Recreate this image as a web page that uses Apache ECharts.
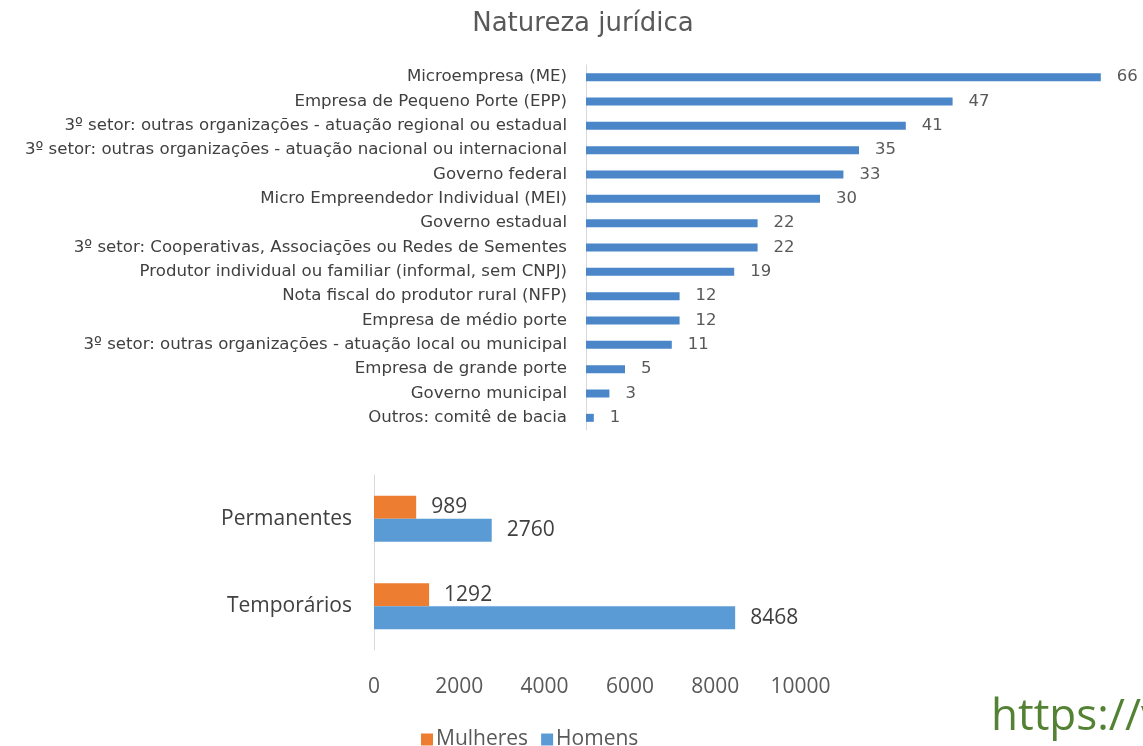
<!DOCTYPE html>
<html>
<head>
<meta charset="utf-8">
<script src="https://cdn.jsdelivr.net/npm/echarts@6/dist/echarts.min.js"></script>
<style>
  html, body { margin: 0; padding: 0; background: #fff; }
  #chart { width: 1143px; height: 746px; }
</style>
</head>
<body>
<div id="chart"></div>
<script>
// natureza juridica (top chart)
var naturezaCats = [
    'Microempresa (ME)',
    'Empresa de Pequeno Porte (EPP)',
    '3º setor: outras organizações - atuação regional ou estadual',
    '3º setor: outras organizações - atuação nacional ou internacional',
    'Governo federal',
    'Micro Empreendedor Individual (MEI)',
    'Governo estadual',
    '3º setor: Cooperativas, Associações ou Redes de Sementes',
    'Produtor individual ou familiar (informal, sem CNPJ)',
    'Nota fiscal do produtor rural (NFP)',
    'Empresa de médio porte',
    '3º setor: outras organizações - atuação local ou municipal',
    'Empresa de grande porte',
    'Governo municipal',
    'Outros: comitê de bacia'
];
var naturezaVals = [66, 47, 41, 35, 33, 30, 22, 22, 19, 12, 12, 11, 5, 3, 1];

// trabalhadores (bottom chart)
var vinculoCats = ['Permanentes', 'Temporários'];
var mulheresVals = [989, 1292];
var homensVals = [2760, 8468];

var sans = 'Open Sans';
var wide = 'DejaVu Sans';

var option = {
    animation: false,
    backgroundColor: '#fff',
    title: {
        text: 'Natureza jurídica',
        left: 578,
        top: 6,
        textAlign: 'center',
        textStyle: { fontFamily: wide, fontSize: 26, fontWeight: 'normal', color: '#595959' }
    },
    legend: {
        data: ['Mulheres', 'Homens'],
        left: 416,
        top: 724,
        itemWidth: 12,
        itemHeight: 12,
        itemGap: 13,
        icon: 'rect',
        textStyle: { fontFamily: sans, fontSize: 21, color: '#595959', padding: [0, 0, 0, -2] }
    },
    graphic: [{
        type: 'text',
        left: 991,
        top: 695,
        style: { text: 'https://v', fontFamily: sans, fontSize: 44, fill: '#548235' }
    }],
    grid: [
        { left: 586, top: 65, width: 546, height: 365 },
        { left: 374, top: 475, width: 426.5, height: 175 }
    ],
    xAxis: [
        {
            gridIndex: 0, type: 'value', min: 0, max: 70,
            show: false
        },
        {
            gridIndex: 1, type: 'value', min: 0, max: 10000, interval: 2000,
            axisLine: { show: false },
            axisTick: { show: false },
            splitLine: { show: false },
            axisLabel: {
                fontFamily: sans, fontSize: 21, color: '#595959', margin: 27,
                formatter: function (v) { return String(v); }
            }
        }
    ],
    yAxis: [
        {
            gridIndex: 0, type: 'category', data: naturezaCats, inverse: true,
            axisLine: { lineStyle: { color: '#d9d9d9' } },
            axisTick: { show: false },
            axisLabel: { fontFamily: wide, fontSize: 16.6, color: '#404040', margin: 19 }
        },
        {
            gridIndex: 1, type: 'category', data: vinculoCats, inverse: true,
            axisLine: { lineStyle: { color: '#d9d9d9' } },
            axisTick: { show: false },
            axisLabel: { fontFamily: sans, fontSize: 21, color: '#404040', margin: 22 }
        }
    ],
    series: [
        {
            type: 'bar', xAxisIndex: 0, yAxisIndex: 0,
            data: naturezaVals,
            barWidth: 8,
            itemStyle: { color: '#4a86c8' },
            label: { show: true, position: 'right', distance: 16, fontFamily: wide, fontSize: 16.5, color: '#595959' }
        },
        {
            name: 'Mulheres', type: 'bar', xAxisIndex: 1, yAxisIndex: 1,
            data: mulheresVals,
            barWidth: 23, barGap: '0%',
            itemStyle: { color: '#ed7d31' },
            label: { show: true, position: 'right', distance: 15, fontFamily: sans, fontSize: 21, color: '#404040' }
        },
        {
            name: 'Homens', type: 'bar', xAxisIndex: 1, yAxisIndex: 1,
            data: homensVals,
            barWidth: 23, barGap: '0%',
            itemStyle: { color: '#5b9bd5' },
            label: { show: true, position: 'right', distance: 15, fontFamily: sans, fontSize: 21, color: '#404040' }
        }
    ]
};

var chart = echarts.init(document.getElementById('chart'));
chart.setOption(option);
</script>
</body>
</html>
